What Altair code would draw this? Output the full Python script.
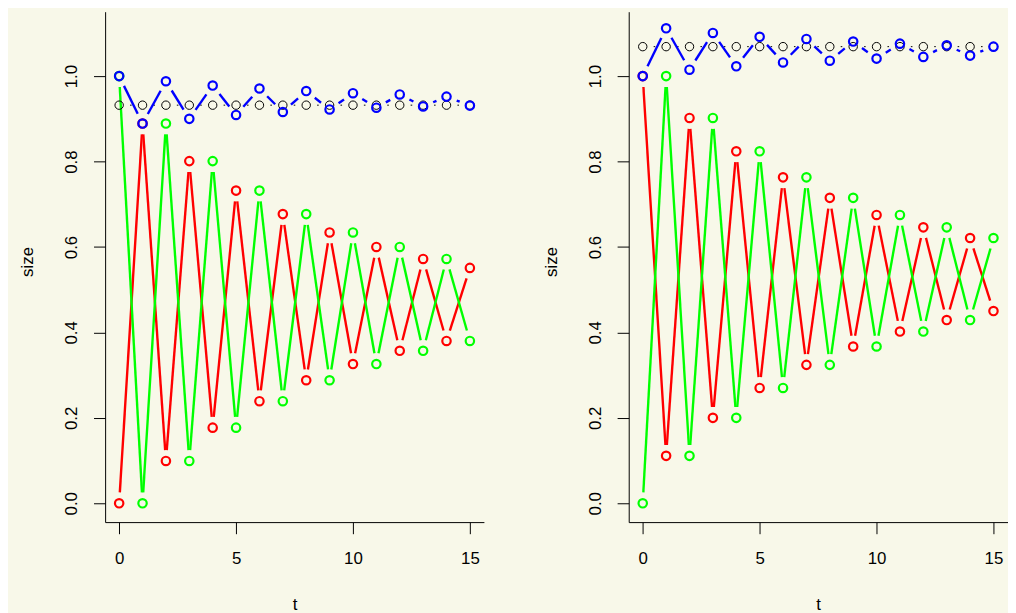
import altair as alt
import pandas as pd

# ---------------- data ----------------
t_values = list(range(16))

left_red = [0.0, 0.889, 0.099, 0.801, 0.177, 0.732, 0.239, 0.677, 0.288, 0.634,
            0.326, 0.600, 0.357, 0.572, 0.380, 0.551]
left_green = [1.0, 0.0, 0.889, 0.099, 0.801, 0.177, 0.732, 0.239, 0.677, 0.288,
              0.634, 0.326, 0.600, 0.357, 0.572, 0.380]
left_blue = [1.0, 0.889, 0.988, 0.900, 0.978, 0.909, 0.971, 0.916, 0.965, 0.922,
             0.960, 0.926, 0.957, 0.929, 0.952, 0.931]
left_black = [0.932, 0.932, 0.932, 0.932, 0.932, 0.932, 0.932, 0.932, 0.932, 0.932,
              0.932, 0.932, 0.932, 0.932, 0.932, 0.932]

right_red = [1.0, 0.111, 0.902, 0.200, 0.824, 0.270, 0.763, 0.324, 0.715, 0.367,
             0.675, 0.402, 0.646, 0.429, 0.621, 0.450]
right_green = [0.0, 1.0, 0.111, 0.902, 0.200, 0.824, 0.270, 0.763, 0.324, 0.715,
               0.367, 0.675, 0.402, 0.646, 0.429, 0.621]
right_blue = [1.0, 1.112, 1.015, 1.101, 1.023, 1.092, 1.032, 1.087, 1.036, 1.081,
              1.041, 1.076, 1.045, 1.072, 1.048, 1.069]
right_black = [1.069, 1.069, 1.069, 1.069, 1.069, 1.069, 1.069, 1.069, 1.069, 1.069,
               1.069, 1.069, 1.069, 1.069, 1.069, 1.069]

series_names = ["black", "red", "green", "blue"]
series_colors = ["#000000", "#ff0000", "#00ff00", "#0000ff"]
x_ticks = [0, 5, 10, 15]
y_ticks = [0.0, 0.2, 0.4, 0.6, 0.8, 1.0]

panels = {
    "left": {"black": left_black, "red": left_red, "green": left_green, "blue": left_blue},
    "right": {"black": right_black, "red": right_red, "green": right_green, "blue": right_blue},
}

rows = []
for pname, sdict in panels.items():
    for s in series_names:
        for tt, vv in zip(t_values, sdict[s]):
            rows.append({"panel": pname, "series": s, "t": tt, "v": vv})
df = pd.DataFrame(rows)

# ---------------- layout constants ----------------
X_DOM = [-0.6, 15.6]
Y_DOM = [-0.0441, 1.1508]
W = 382.2
H = 515
SX = W / (X_DOM[1] - X_DOM[0])
SY = H / (Y_DOM[1] - Y_DOM[0])
GAP = 11.0  # px gap between line ends and point centres (type = "b")
FONT = "Liberation Sans"
LABEL_SIZE = 17
TITLE_SIZE = 17

color_enc = alt.Color("series:N", scale=alt.Scale(domain=series_names, range=series_colors), legend=None)


def make_axes():
    xaxis = alt.Axis(values=x_ticks, title="t", grid=False, domainColor="black", domainWidth=1,
                     tickColor="black", tickWidth=1, tickSize=11.7,
                     labelFont=FONT, labelFontSize=LABEL_SIZE, labelColor="black",
                     labelPadding=30.5, labelBaseline="alphabetic", labelFlush=False, labelOverlap=False,
                     titleFont=FONT, titleFontSize=TITLE_SIZE, titleFontWeight="normal", titleColor="black",
                     titleX=W / 2, titleY=88.2, titleBaseline="alphabetic", titleAlign="center")
    yaxis = alt.Axis(values=y_ticks, format=".1f", title="size", grid=False, domainColor="black", domainWidth=1,
                     tickColor="black", tickWidth=1, tickSize=11.7,
                     labelFont=FONT, labelFontSize=LABEL_SIZE, labelColor="black",
                     labelAngle=270, labelAlign="center", labelBaseline="alphabetic", labelPadding=16.9,
                     labelFlush=False, labelOverlap=False,
                     titleFont=FONT, titleFontSize=TITLE_SIZE, titleFontWeight="normal", titleColor="black",
                     titleAngle=270, titleX=-73.3, titleY=252, titleBaseline="alphabetic", titleAlign="center")
    return xaxis, yaxis


def make_panel(pname):
    xs = alt.Scale(domain=X_DOM, nice=False, zero=False)
    ys = alt.Scale(domain=Y_DOM, nice=False, zero=False)
    xaxis, yaxis = make_axes()
    base = alt.Chart(df).transform_filter(alt.datum.panel == pname)
    is_black = alt.datum.series == "black"

    segs = (
        base.transform_window(t1="lead(t)", v1="lead(v)", groupby=["series"], sort=[alt.SortField("t")])
        .transform_filter("isValid(datum.t1)")
        .transform_calculate(L=f"sqrt(pow((datum.t1-datum.t)*{SX},2)+pow((datum.v1-datum.v)*{SY},2))")
        .transform_calculate(f=f"{GAP}/datum.L")
        .transform_filter("datum.f < 0.5")
        .transform_calculate(
            xa="datum.t + datum.f*(datum.t1-datum.t)",
            xb="datum.t1 - datum.f*(datum.t1-datum.t)",
            ya="datum.v + datum.f*(datum.v1-datum.v)",
            yb="datum.v1 - datum.f*(datum.v1-datum.v)",
        )
        .mark_rule()
        .encode(
            x=alt.X("xa:Q", scale=xs, axis=xaxis),
            x2="xb:Q",
            y=alt.Y("ya:Q", scale=ys, axis=yaxis),
            y2="yb:Q",
            color=color_enc,
            strokeWidth=alt.condition(is_black, alt.value(1), alt.value(2.4)),
        )
    )

    pts = (
        base.mark_point(shape="circle", filled=False, size=72, opacity=1)
        .encode(
            x=alt.X("t:Q", scale=xs, axis=xaxis),
            y=alt.Y("v:Q", scale=ys, axis=yaxis),
            color=color_enc,
            strokeWidth=alt.condition(is_black, alt.value(1), alt.value(2.2)),
        )
    )
    return alt.layer(segs, pts).properties(width=W, height=H)


chart = (
    alt.hconcat(make_panel("left"), make_panel("right"), spacing=145.3, bounds="flush")
    .properties(
        padding={"left": 10, "top": 0, "right": 0, "bottom": 0},
        background="#f8f8e9",
    )
    .configure_view(stroke="transparent")
)

chart.save("out.html", embed_options={"renderer": "svg", "actions": False})
